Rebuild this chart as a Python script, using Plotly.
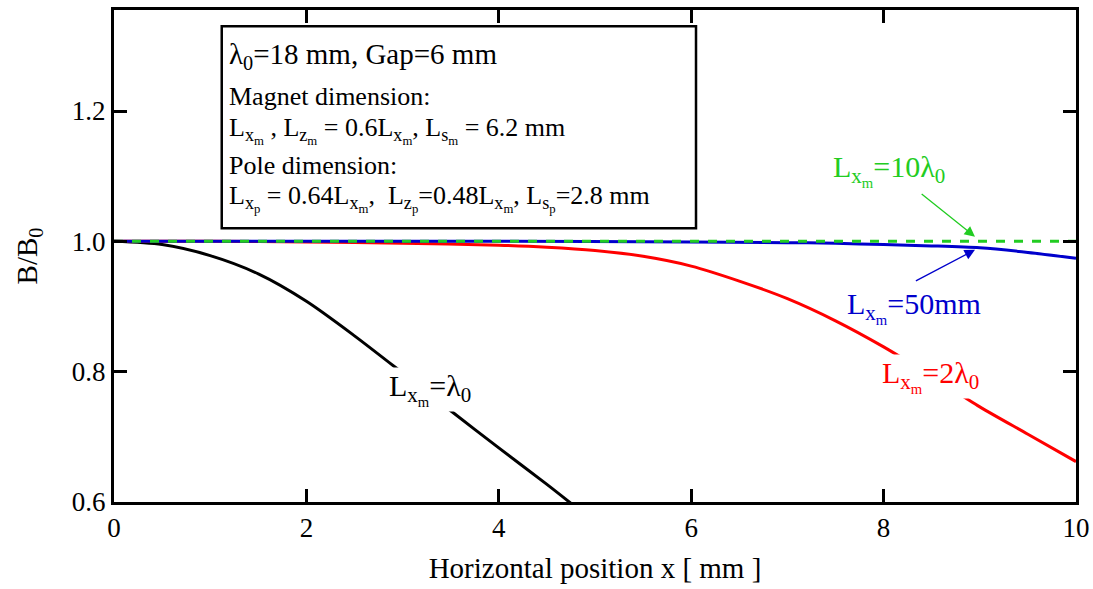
import plotly.graph_objects as go

# ---- data ----
x_black = [0, 0.5, 1.0, 1.5, 2.0, 2.5, 3.0, 3.5, 4.0, 4.5, 4.75]
y_black = [1.0, 0.995, 0.978, 0.950, 0.908, 0.855, 0.798, 0.740, 0.683, 0.627, 0.598]

x_red = [0, 1, 2, 3, 4, 4.5, 5, 5.5, 6, 6.5, 7, 7.5, 8, 8.5, 9, 9.5, 10]
y_red = [1.0, 1.0, 0.999, 0.997, 0.994, 0.991, 0.986, 0.977, 0.962, 0.939, 0.912,
         0.878, 0.838, 0.793, 0.746, 0.704, 0.662]

x_blue = [0, 2, 4, 6, 7, 7.5, 8, 8.5, 9, 9.5, 10]
y_blue = [1.0, 1.0, 1.0, 0.999, 0.998, 0.997, 0.995, 0.993, 0.990, 0.983, 0.974]

x_green = [0, 10]
y_green = [1.0, 1.0]

x_ticks = [0, 2, 4, 6, 8, 10]
y_ticks = [0.6, 0.8, 1.0, 1.2]
y_tick_labels = ["0.6", "0.8", "1.0", "1.2"]

FONT = "Liberation Serif"
LX = "L<sub>x<sub>m</sub></sub>"

fig = go.Figure()
fig.add_trace(go.Scatter(x=x_black, y=y_black, mode="lines",
                         line=dict(color="black", width=3, shape="spline", smoothing=0.8),
                         showlegend=False))
fig.add_trace(go.Scatter(x=x_red, y=y_red, mode="lines",
                         line=dict(color="#ff0000", width=3, shape="spline", smoothing=0.8),
                         showlegend=False))
fig.add_trace(go.Scatter(x=x_blue, y=y_blue, mode="lines",
                         line=dict(color="#0000cc", width=3, shape="spline", smoothing=0.8),
                         showlegend=False))
fig.add_trace(go.Scatter(x=x_green, y=y_green, mode="lines",
                         line=dict(color="#22cc22", width=3, dash="dash"), showlegend=False))

annots = []
# curve labels
annots.append(dict(x=3.28, y=0.772, text=LX + "=λ<sub>0</sub>", showarrow=False,
                   font=dict(family=FONT, size=30, color="black"), bgcolor="white"))
annots.append(dict(x=8.49, y=0.792, text=LX + "=2λ<sub>0</sub>", showarrow=False,
                   font=dict(family=FONT, size=30, color="#ff0000"), bgcolor="white"))
annots.append(dict(x=8.32, y=0.898, text=LX + "=50mm", showarrow=False,
                   font=dict(family=FONT, size=30, color="#0000cc")))
annots.append(dict(x=8.06, y=1.108, text=LX + "=10λ<sub>0</sub>", showarrow=False,
                   font=dict(family=FONT, size=30, color="#22cc22")))
# arrows
annots.append(dict(x=8.95, y=1.007, ax=8.38, ay=1.0745, axref="x", ayref="y",
                   xref="x", yref="y", text="", showarrow=True, arrowhead=2,
                   arrowsize=1.6, arrowwidth=1.3, arrowcolor="#22cc22"))
annots.append(dict(x=8.95, y=0.987, ax=8.32, ay=0.938, axref="x", ayref="y",
                   xref="x", yref="y", text="", showarrow=True, arrowhead=2,
                   arrowsize=1.6, arrowwidth=1.3, arrowcolor="#0000cc"))

# info box text
box_lines = [
    ("λ<sub>0</sub>=18 mm, Gap=6 mm", 1.285, 29),
    ("Magnet dimension:", 1.222, 26),
    (LX + " , L<sub>z<sub>m</sub></sub> = 0.6" + LX + ", L<sub>s<sub>m</sub></sub> = 6.2 mm", 1.170, 26),
    ("Pole dimension:", 1.116, 26),
    ("L<sub>x<sub>p</sub></sub> = 0.64" + LX + ",  L<sub>z<sub>p</sub></sub>=0.48" + LX
     + ", L<sub>s<sub>p</sub></sub>=2.8 mm", 1.066, 26),
]
for txt, yy, fs in box_lines:
    annots.append(dict(x=1.17, y=yy, xref="x", yref="y", text=txt, showarrow=False,
                       xanchor="left", yanchor="middle",
                       font=dict(family=FONT, size=fs, color="black")))

# info box
shapes = [dict(type="rect", xref="x", yref="y", x0=1.12, x1=6.05, y0=1.02, y1=1.33,
               line=dict(color="black", width=2.5), fillcolor="white", layer="below")]

fig.update_layout(
    template="none",
    width=1093, height=589,
    margin=dict(l=114, r=17, t=10, b=87, pad=0),
    plot_bgcolor="white", paper_bgcolor="white",
    font=dict(family=FONT, size=26, color="black"),
    annotations=annots,
    shapes=shapes,
)
axis_common = dict(ticks="inside", ticklen=13, tickwidth=3, tickcolor="black",
                   showline=True, linewidth=3, linecolor="black", mirror="allticks",
                   showgrid=False, zeroline=False, automargin=False,
                   tickfont=dict(family=FONT, size=27))
fig.update_xaxes(range=[0, 10], tickvals=x_ticks, **axis_common,
                 title=dict(text="Horizontal position x [ mm ]", font=dict(family=FONT, size=29),
                            standoff=16))
fig.update_yaxes(range=[0.6, 1.355], tickvals=y_ticks, ticktext=y_tick_labels, **axis_common,
                 title=dict(text="B/B<sub>0</sub>", font=dict(family=FONT, size=29), standoff=26))

fig.write_html("out.html")
